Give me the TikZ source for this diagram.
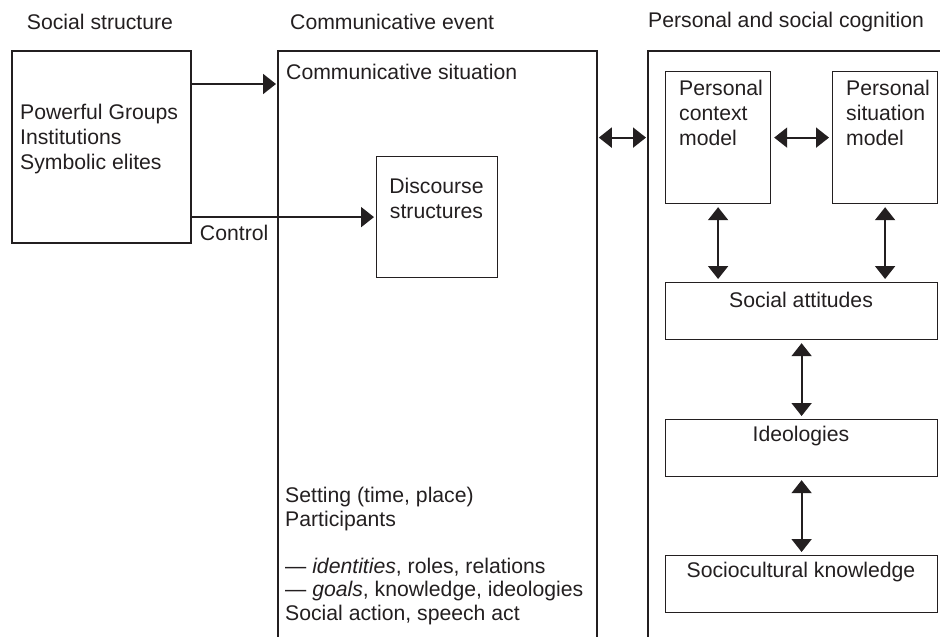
\documentclass[tikz,border=0pt]{standalone}
\usepackage{fontspec}
\setmainfont{Liberation Sans}
\usetikzlibrary{arrows.meta,positioning}
\definecolor{ink}{RGB}{35,31,32}

\begin{document}
\begin{tikzpicture}[
			x=1pt, y=-1pt,
			every node/.style={inner sep=0pt, text=ink, font=\fontsize{21.2}{25}\selectfont},
			bigbox/.style={draw=ink, line width=1.8pt, anchor=north west},
			smallbox/.style={draw=ink, line width=1.2pt, anchor=north west},
			link/.style={draw=ink, line width=2pt, -{Triangle[length=13pt,width=20pt]}},
			twoway/.style={draw=ink, line width=2pt, {Triangle[length=13pt,width=20pt]}-{Triangle[length=13pt,width=20pt]}, shorten <=3pt, shorten >=3pt}
			]

				\useasboundingbox (0,0) rectangle (940,637);
				\clip (0,0) rectangle (940,637);

				% the three columns
				\node (titleS) at (100,22) {Social structure};
				\node[anchor=west] (titleE) at (290,22) {Communicative event};
				\node[anchor=west] (titleC) at (648,22) {Personal and social cognition};

				\node[bigbox, minimum width=179, minimum height=192] (social) at (11,50) {};
				\node[bigbox, minimum width=319, minimum height=640] (event) at (277,50) {};
				\node[bigbox, minimum width=330, minimum height=640] (cognition) at (647,50) {};

				\node[anchor=west, align=left] (groups) at (20,139) {Powerful Groups\\Institutions\\Symbolic elites};

				% communicative event
				\node[anchor=west] (situation) at (286,72) {Communicative situation};
				\node[smallbox, minimum width=121, minimum height=121] (discourse) at (376,156) {};
				\node[align=center] (discourseT) at (436.5,198) {Discourse\\structures};
				\node[anchor=west, align=left, font=\fontsize{21.2}{23.5}\selectfont] (setting) at (285,556)
					{Setting (time, place)\\Participants\\[23.5pt]— \textit{identities}, roles, relations\\— \textit{goals}, knowledge, ideologies\\Social action, speech act};

				% cognition
				\node[smallbox, minimum width=105, minimum height=132] (pcm) at (665,71) {};
				\node[smallbox, minimum width=105, minimum height=132] (psm) at (832,71) {};
				\node[anchor=west, align=left] (pcmT) at (679,113) {Personal\\context\\model};
				\node[anchor=west, align=left] (psmT) at (846,113) {Personal\\situation\\model};

				\node[smallbox, minimum width=272, minimum height=57] (attitudes) at (665,282) {};
				\node[smallbox, minimum width=272, minimum height=57] (ideologies) at (665,419) {};
				\node[smallbox, minimum width=272, minimum height=57] (knowledge) at (665,555) {};
				\node (attitudesT) at (801,300) {Social attitudes};
				\node (ideologiesT) at (801,436) {Ideologies};
				\node (knowledgeT) at (801,572) {Sociocultural knowledge};

				% arrows
				\draw[link, shorten >=1pt] (social.east |- 0,84) -- (event.west |- 0,84);
				\draw[link, shorten >=2pt] (social.east |- discourse.west) -- (discourse.west)
					node[pos=0.23, below=7.5pt] (control) {Control};

				\draw[twoway, shorten <=1pt, shorten >=1pt] (event.east |- pcm.east) -- (cognition.west |- pcm.east);
				\draw[twoway] (pcm) -- (psm);
				\draw[twoway] (pcm.south) -- (pcm.south |- attitudes.north);
				\draw[twoway] (psm.south) -- (psm.south |- attitudes.north);
				\draw[twoway] (attitudes) -- (ideologies);
				\draw[twoway] (ideologies) -- (knowledge);

			\end{tikzpicture}
\end{document}
